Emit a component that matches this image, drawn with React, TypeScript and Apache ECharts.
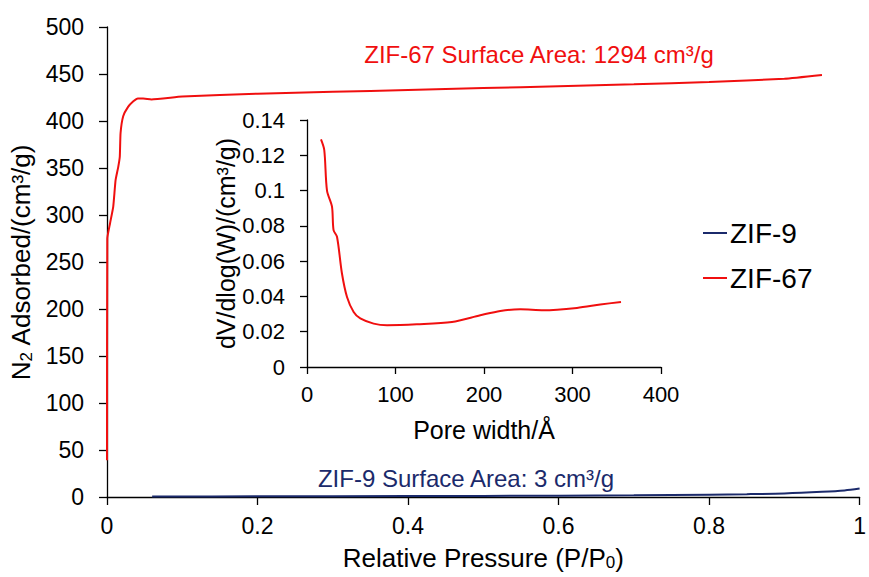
import React, { useEffect, useRef } from "react";
import * as echarts from "echarts";

// N2 adsorption isotherms (relative pressure, cm3/g)
const zif67Isotherm: [number, number][] = [
  [0.0, 39], [0.0004, 275], [0.004, 291], [0.0083, 309], [0.0114, 337],
  [0.0149, 351], [0.017, 362], [0.018, 387], [0.0215, 405], [0.028, 415],
  [0.035, 421], [0.041, 424], [0.048, 424], [0.059, 423], [0.1, 426], [0.2, 429],
  [0.3, 431], [0.4, 433], [0.5, 435], [0.6, 437], [0.7, 439],
  [0.8, 441.5], [0.9, 445], [0.95, 449],
];
const zif9Isotherm: [number, number][] = [
  [0.06, 0.5], [0.2, 0.7], [0.4, 1.0], [0.6, 1.4], [0.7, 1.8], [0.8, 2.5],
  [0.85, 3], [0.9, 3.8], [0.95, 5.5], [0.98, 7], [1.0, 9],
];
// ZIF-67 pore size distribution (pore width in Å, dV/dlog(W))
const zif67Pores: [number, number][] = [
  [15.8, 0.129], [19.5, 0.123], [22.6, 0.1], [28.2, 0.091], [30, 0.0776],
  [33.9, 0.0738], [39.5, 0.053], [45.2, 0.0397], [52.7, 0.0312], [60.2, 0.0275],
  [75.3, 0.0246], [90.4, 0.0237], [124, 0.0242], [163.8, 0.0255], [195.8, 0.0293],
  [218.4, 0.0318], [241, 0.0327], [267.4, 0.0322], [305, 0.0335], [331.4, 0.0354],
  [354.8, 0.0369],
];

const RED = "#f00f0f";
const NAVY = "#1b2a6b";
const FONT = "'Liberation Sans', Arial, sans-serif";

const subRich = {
  sub: { fontSize: 17, fontFamily: FONT, color: "#000", padding: [10, 0, 0, 0] },
};

export default function App() {
  const ref = useRef<HTMLDivElement>(null);
  useEffect(() => {
    if (!ref.current) return;
    const chart = echarts.init(ref.current, null, { renderer: "svg" });
    const axisCommon = {
      axisLine: { show: true, onZero: false, lineStyle: { color: "#000", width: 1.3 } },
      axisTick: { show: true, inside: false, length: 8, lineStyle: { color: "#000", width: 1.3 } },
      splitLine: { show: false },
    };
    chart.setOption({
      animation: false,
      backgroundColor: "#fff",
      textStyle: { fontFamily: FONT },
      grid: [
        { left: 107, top: 27, width: 759, height: 470 },
        { left: 307, top: 120, width: 354, height: 247 },
      ],
      xAxis: [
        {
          gridIndex: 0, type: "value", min: 0, max: 1, interval: 0.2,
          ...axisCommon,
          axisLabel: { fontSize: 23, color: "#000", margin: 17, fontFamily: FONT },
          name: "Relative Pressure (P/P{sub|0})",
          nameLocation: "middle", nameGap: 47,
          nameTextStyle: { fontSize: 26, color: "#000", fontFamily: FONT, rich: subRich },
        },
        {
          gridIndex: 1, type: "value", min: 0, max: 400, interval: 100,
          ...axisCommon,
          axisTick: { ...axisCommon.axisTick, length: 7 },
          axisLabel: { fontSize: 22, color: "#000", margin: 16, fontFamily: FONT },
          name: "Pore width/Å",
          nameLocation: "middle", nameGap: 50,
          nameTextStyle: { fontSize: 25, color: "#000", fontFamily: FONT },
        },
      ],
      yAxis: [
        {
          gridIndex: 0, type: "value", min: 0, max: 500, interval: 50,
          ...axisCommon,
          axisLabel: { fontSize: 23, color: "#000", margin: 23, fontFamily: FONT },
          name: "N{sub|2} Adsorbed/(cm³/g)",
          nameLocation: "middle", nameGap: 63, nameRotate: 90,
          nameTextStyle: { fontSize: 26, color: "#000", fontFamily: FONT, rich: subRich },
        },
        {
          gridIndex: 1, type: "value", min: 0, max: 0.14, interval: 0.02,
          ...axisCommon,
          axisTick: { ...axisCommon.axisTick, length: 7 },
          axisLabel: { fontSize: 22, color: "#000", margin: 22, fontFamily: FONT },
          name: "dV/dlog(W)/(cm³/g)",
          nameLocation: "middle", nameGap: 62, nameRotate: 90,
          nameTextStyle: { fontSize: 25, color: "#000", fontFamily: FONT },
        },
      ],
      legend: {
        data: ["ZIF-9", "ZIF-67"],
        orient: "vertical",
        left: 703, top: 219, padding: 0,
        icon: "rect", itemWidth: 24, itemHeight: 2, itemGap: 17,
        textStyle: { fontSize: 28, color: "#000", fontFamily: FONT, padding: [0, 0, 0, -2] },
      },
      series: [
        {
          name: "ZIF-9", type: "line", xAxisIndex: 0, yAxisIndex: 0,
          data: zif9Isotherm, showSymbol: false, smooth: 0.3,
          lineStyle: { color: NAVY, width: 2 }, itemStyle: { color: NAVY },
        },
        {
          name: "ZIF-67", type: "line", xAxisIndex: 0, yAxisIndex: 0,
          data: zif67Isotherm, showSymbol: false, smooth: 0.15,
          lineStyle: { color: RED, width: 2 }, itemStyle: { color: RED },
        },
        {
          name: "ZIF-67 pore size distribution", type: "line", xAxisIndex: 1, yAxisIndex: 1,
          data: zif67Pores, showSymbol: false, smooth: 0.3,
          lineStyle: { color: RED, width: 2 }, itemStyle: { color: RED },
        },
      ],
      graphic: [
        {
          type: "text", x: 539, y: 54,
          style: {
            text: "ZIF-67 Surface Area: 1294 cm³/g",
            fill: RED, fontSize: 24, fontFamily: FONT,
            align: "center", verticalAlign: "middle",
          },
        },
        {
          type: "text", x: 466, y: 478,
          style: {
            text: "ZIF-9 Surface Area: 3 cm³/g",
            fill: NAVY, fontSize: 24, fontFamily: FONT,
            align: "center", verticalAlign: "middle",
          },
        },
      ],
    });
    return () => chart.dispose();
  }, []);
  return (
    <div
      ref={ref}
      style={{ position: "fixed", left: 0, top: 0, width: 869, height: 577 }}
    />
  );
}
